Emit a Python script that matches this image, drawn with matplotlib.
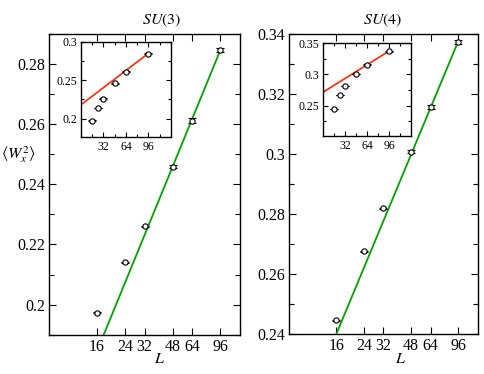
import numpy as np
import matplotlib
matplotlib.use("Agg")
import matplotlib.pyplot as plt
from matplotlib.ticker import FixedLocator, MultipleLocator, FuncFormatter, NullLocator, NullFormatter

plt.rcParams['font.family'] = ['Liberation Serif', 'DejaVu Serif']
plt.rcParams['mathtext.fontset'] = 'stix'

# ---- data ----
L = [16, 24, 32, 48, 64, 96]
su3_w = [0.1973, 0.2141, 0.2260, 0.2459, 0.2612, 0.2847]
su3_err = [0.0002, 0.0002, 0.0003, 0.0005, 0.0008, 0.0008]
su4_w = [0.2446, 0.2675, 0.2819, 0.3008, 0.3157, 0.3373]
su4_err = [0.0002, 0.0002, 0.0002, 0.0004, 0.0006, 0.0006]

# fits: main  y = a + b*ln(L/96) ; inset y = c + d*L
su3_logfit = [0.2845, 0.0558]
su4_logfit = [0.3375, 0.0544]
su3_linfit = [0.2180, 0.00070]
su4_linfit = [0.2718, 0.000685]

main_ticks = [16, 24, 32, 48, 64, 96]
titles = ['$SU(3)$', '$SU(4)$']

W, H = 485, 374
fig = plt.figure(figsize=(W / 100, H / 100), dpi=100)

def fr(x0, y_top, x1, y_bot):
    return [x0 / W, 1 - y_bot / H, (x1 - x0) / W, (y_bot - y_top) / H]

fmt = FuncFormatter(lambda v, p: '%g' % round(v, 4))

def style(ax, size, major_len, minor_len):
    ax.tick_params(which='both', direction='in', top=True, right=True, labelsize=size, width=0.8, pad=3)
    ax.tick_params(which='major', length=major_len)
    ax.tick_params(which='minor', length=minor_len)
    for s in ax.spines.values():
        s.set_linewidth(1.0)

green = '#00a400'
red = '#ff2a00'

configs = [
    dict(rect=fr(49.3, 34, 240, 334.7), ylim=(0.19, 0.29), ymaj=0.02, w=su3_w, err=su3_err, fit=su3_logfit,
         inset=fr(81, 42, 171, 137.3), iylim=(0.1755, 0.3), ilin=su3_linfit, title_x=162),
    dict(rect=fr(289.3, 34, 477.7, 334), ylim=(0.24, 0.34), ymaj=0.02, w=su4_w, err=su4_err, fit=su4_logfit,
         inset=fr(323.3, 43.3, 411, 136), iylim=(0.2012, 0.35), ilin=su4_linfit, title_x=383),
]
xlabel_x = [160, 401]

for i, c in enumerate(configs):
    ax = fig.add_axes(c['rect'])
    ax.set_xscale('log')
    ax.set_xlim(8, 128)
    ax.set_ylim(*c['ylim'])
    Lf = np.linspace(8, 96, 200)
    ax.plot(Lf, c['fit'][0] + c['fit'][1] * np.log(Lf / 96.0), color=green, lw=1.3, zorder=2)
    ax.errorbar(L, c['w'], yerr=c['err'], fmt='o', ms=3.8, mfc='white', mec='black', mew=0.8,
                ecolor='black', elinewidth=0.8, capsize=3.0, capthick=0.8, zorder=3)
    ax.xaxis.set_major_locator(FixedLocator(main_ticks))
    ax.xaxis.set_major_formatter(FuncFormatter(lambda v, p: '%d' % v))
    ax.xaxis.set_minor_locator(NullLocator())
    ax.xaxis.set_minor_formatter(NullFormatter())
    ax.yaxis.set_major_locator(MultipleLocator(c['ymaj']))
    ax.yaxis.set_minor_locator(MultipleLocator(c['ymaj'] / 2))
    ax.yaxis.set_major_formatter(fmt)
    style(ax, 11.5, 5, 3.5)
    fig.text(c['title_x'] / W, 1 - 20 / H, titles[i], ha='center', va='center', fontsize=11.5)
    fig.text(xlabel_x[i] / W, 1 - 359 / H, '$L$', ha='center', va='center', fontsize=11.5)

    ia = fig.add_axes(c['inset'])
    ia.set_xlim(0, 128)
    ia.set_ylim(*c['iylim'])
    Li = np.linspace(0, 96, 50)
    ia.plot(Li, c['ilin'][0] + c['ilin'][1] * Li, color=red, lw=1.2, zorder=2)
    ia.errorbar(L, c['w'], yerr=c['err'], fmt='o', ms=3.8, mfc='white', mec='black', mew=0.8,
                ecolor='black', elinewidth=0.8, capsize=3.0, capthick=0.8, zorder=3)
    ia.xaxis.set_major_locator(FixedLocator([32, 64, 96]))
    ia.xaxis.set_minor_locator(MultipleLocator(16))
    ia.yaxis.set_major_locator(MultipleLocator(0.05))
    ia.yaxis.set_minor_locator(MultipleLocator(0.025))
    ia.yaxis.set_major_formatter(fmt)
    style(ia, 8.5, 3.5, 2.2)

fig.text(18 / W, 1 - 155 / H, r'$\langle W_x^2\rangle$', ha='center', va='center', fontsize=11.5)

fig.savefig('out.png', dpi=100)
